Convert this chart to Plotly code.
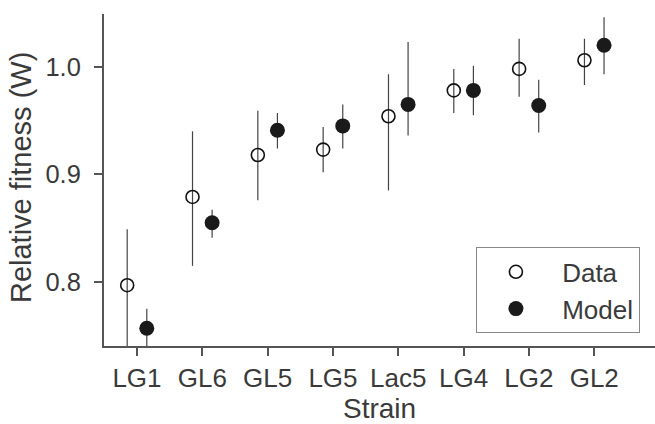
import plotly.graph_objects as go

strains = ["LG1", "GL6", "GL5", "LG5", "Lac5", "LG4", "LG2", "GL2"]
data_w = [0.797, 0.879, 0.918, 0.923, 0.954, 0.978, 0.998, 1.006]
data_hi = [0.849, 0.940, 0.959, 0.944, 0.993, 0.998, 1.026, 1.026]
data_lo = [0.738, 0.815, 0.876, 0.902, 0.885, 0.957, 0.972, 0.983]
model_w = [0.757, 0.855, 0.941, 0.945, 0.965, 0.978, 0.964, 1.020]
model_hi = [0.775, 0.867, 0.957, 0.965, 1.023, 1.001, 0.988, 1.046]
model_lo = [0.738, 0.841, 0.924, 0.924, 0.936, 0.955, 0.939, 0.993]
y_ticks = [0.8, 0.9, 1.0]
y_ticktext = ["0.8", "0.9", "1.0"]

idx = list(range(len(strains)))
off = 0.15
dx = [i - off for i in idx]
mx = [i + off for i in idx]

font = "Liberation Sans, Arial, sans-serif"
txt = "#3a3a3a"
axc = "#555555"

fig = go.Figure()
fig.add_trace(go.Scatter(
    x=dx, y=data_w, mode="markers", name="\u00a0Data",
    marker=dict(symbol="circle-open", size=13, color="#111111", line=dict(width=1.6, color="#111111")),
    error_y=dict(type="data", symmetric=False,
                 array=[h - v for h, v in zip(data_hi, data_w)],
                 arrayminus=[v - l for v, l in zip(data_w, data_lo)],
                 color="#444444", thickness=1.2, width=0),
))
fig.add_trace(go.Scatter(
    x=mx, y=model_w, mode="markers", name="\u00a0Model",
    marker=dict(symbol="circle", size=15, color="#1a1a1a"),
    error_y=dict(type="data", symmetric=False,
                 array=[h - v for h, v in zip(model_hi, model_w)],
                 arrayminus=[v - l for v, l in zip(model_w, model_lo)],
                 color="#444444", thickness=1.2, width=0),
))

fig.update_layout(
    width=655, height=424,
    margin=dict(l=104, r=0, t=14, b=78),
    paper_bgcolor="white", plot_bgcolor="white",
    font=dict(family=font, size=26, color=txt),
    showlegend=True,
    legend=dict(x=0.675, y=0.297, xanchor="left", yanchor="top",
                bordercolor="#888888", borderwidth=1, bgcolor="white",
                font=dict(size=26, color=txt), itemwidth=68),
    xaxis=dict(
        range=[-0.505, 7.93], tickmode="array", tickvals=idx, ticktext=strains,
        showline=True, linecolor=axc, linewidth=2, ticks="outside",
        ticklen=8, tickcolor=axc, tickwidth=1.5, showgrid=False, zeroline=False,
        automargin=False, tickfont=dict(size=26),
    ),
    yaxis=dict(
        range=[0.7405, 1.049], tickmode="array", tickvals=y_ticks, ticktext=y_ticktext,
        showline=True, linecolor=axc, linewidth=2, ticks="outside",
        ticklen=8, tickcolor=axc, tickwidth=1.5, showgrid=False, zeroline=False,
        automargin=False, ticklabelstandoff=8, tickfont=dict(size=25.5),
    ),
    annotations=[
        dict(text="Relative fitness (W)", textangle=-90, xref="paper", yref="paper",
             x=-0.1515, y=0.5075, xanchor="center", yanchor="middle", showarrow=False,
             font=dict(size=29, color=txt)),
        dict(text="Strain", xref="paper", yref="paper",
             x=0.5, y=-0.188, xanchor="center", yanchor="middle", showarrow=False,
             font=dict(size=28, color=txt)),
    ],
)

fig.write_html("out.html", config={"displayModeBar": False},
               post_script="document.body.style.margin='0';document.body.style.padding='0';")
